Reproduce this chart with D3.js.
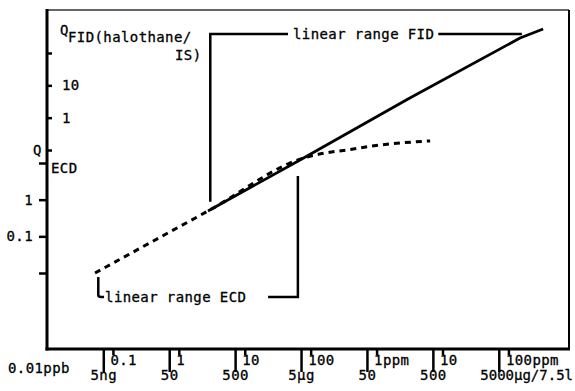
<!DOCTYPE html>
<html>
<head>
<meta charset="utf-8">
<script src="https://cdn.jsdelivr.net/npm/d3@7"></script>
<style>
  body { margin: 0; background: #fff; }
  svg { display: block; }
  text { font-family: "DejaVu Sans Mono", "Liberation Mono", monospace; font-size: 14px; letter-spacing: 0.4px; fill: #000; stroke: #000; stroke-width: 0.3px; }
</style>
</head>
<body>
<svg id="chart"></svg>
<script>
// Data (x = halothane concentration in ppb, log axis)
const concTicks = [0.1, 1, 10, 100, 1000, 10000, 100000];
const concLabels = ["0.1", "1", "10", "100", "1ppm", "10", "100ppm"];
const massTicks = [5, 50, 500, 5000, 50000, 500000, 5000000]; // ng in 7.5 l
const massLabels = ["5ng", "50", "500", "5µg", "50", "500", "5000µg/7.5l"];
const ngPerPpb = 70;

const fidTicks = [100, 10, 1, 0.1];
const fidLabels = ["", "10", "1", ""];
const ecdTicks = [10, 1, 0.1, 0.01];
const ecdLabels = ["", "1", "0.1", ""];

// FID response (solid) and ECD response (dashed)
const fidConc = [2.77, 69, 3000, 150000, 336000];
const fidQ = [0.0013, 0.049, 3.8, 290, 550];
const ecdConc = [0.0535, 2.77, 88, 165, 356, 1130, 6490];
const ecdQ = [0.01, 0.49, 14.6, 18.7, 22.6, 31, 40];

// Linear range brackets (data units)
const fidRange = { from: 3, to: 160000, low: 0.0025, level: 387, labelAt: 54 };
const ecdRange = { from: 0.06, to: 64, top: 0.0078, level: 0.00222, rightTop: 4.4, labelAt: 0.076, resumeAt: 22.6 };

// Layout
const W = 575, H = 391;
const plot = { left: 47, right: 569, top: 10, bottom: 349 };

const svg = d3.select("#chart").attr("width", W).attr("height", H);

// Scales
const x = d3.scaleLog().domain([0.01, 830000]).range([plot.left, plot.right]);
const xMass = m => x(m / ngPerPpb);
const yFid = d3.scaleLog().domain([0.1, 100]).range([150, 53]);
const yEcd = d3.scaleLog().domain([0.01, 10]).range([273, 163]);

// Frame
svg.append("line").attr("x1", plot.left).attr("x2", plot.right).attr("y1", plot.top).attr("y2", plot.top)
  .attr("stroke", "#333").attr("stroke-width", 1.5);
svg.append("line").attr("x1", plot.right).attr("x2", plot.right).attr("y1", plot.top).attr("y2", plot.bottom)
  .attr("stroke", "#000").attr("stroke-width", 2);
svg.append("line").attr("x1", plot.left).attr("x2", plot.left).attr("y1", plot.top - 1).attr("y2", plot.bottom + 1.5)
  .attr("stroke", "#000").attr("stroke-width", 3);
svg.append("line").attr("x1", plot.left - 1.5).attr("x2", plot.right + 1).attr("y1", plot.bottom).attr("y2", plot.bottom)
  .attr("stroke", "#000").attr("stroke-width", 3);

// Y axes
const fidAxis = svg.append("g")
  .attr("transform", `translate(${plot.left},0)`)
  .call(d3.axisRight(yFid).tickValues(fidTicks).tickSize(5).tickPadding(10)
    .tickFormat((d, i) => fidLabels[i]));
const ecdAxis = svg.append("g")
  .attr("transform", `translate(${plot.left},0)`)
  .call(d3.axisLeft(yEcd).tickValues(ecdTicks).tickSize(8).tickPadding(6)
    .tickFormat((d, i) => ecdLabels[i]));

// X axes
const concAxis = svg.append("g")
  .attr("transform", `translate(0,${plot.bottom})`)
  .call(d3.axisBottom(x).tickValues(concTicks).tickSize(6)
    .tickFormat((d, i) => concLabels[i]));
concAxis.selectAll("text")
  .attr("text-anchor", "start").attr("x", -3).attr("y", 16).attr("dy", 0);

const massAxis = svg.append("g")
  .attr("transform", `translate(0,${plot.bottom})`)
  .call(d3.axisBottom(d3.scaleLinear().domain([0, W]).range([0, W]))
    .tickValues(massTicks.map(xMass)).tickSize(23)
    .tickFormat((d, i) => massLabels[i]));
massAxis.selectAll("text").attr("y", 31).attr("dy", 0);
massAxis.selectAll("text").filter((d, i) => i === massTicks.length - 1)
  .attr("text-anchor", "start").attr("x", -19).style("letter-spacing", "0px");

[fidAxis, ecdAxis, concAxis, massAxis].forEach(g => {
  g.select(".domain").remove();
  g.selectAll("line").attr("stroke", "#000").attr("stroke-width", 2.5);
  g.attr("font-family", null).attr("font-size", null);
  g.selectAll("text").attr("fill", "#000");
});

// Axis titles
svg.append("text").attr("x", 8).attr("y", 373).text("0.01ppb");
svg.append("text").attr("x", 33).attr("y", 155).text("Q");
svg.append("text").attr("x", 51).attr("y", 173).text("ECD");
svg.append("text").attr("x", 60).attr("y", 35).text("Q");
svg.append("text").attr("x", 68).attr("y", 42).text("FID(halothane/");
svg.append("text").attr("x", 175).attr("y", 60).text("IS)");

// Curves
const fidLine = d3.line().x((d, i) => x(fidConc[i])).y((d, i) => yFid(fidQ[i]));
svg.append("path")
  .datum(fidConc)
  .attr("d", fidLine)
  .attr("fill", "none").attr("stroke", "#000").attr("stroke-width", 2.8)
  .attr("stroke-linejoin", "round");

const ecdLine = d3.line().curve(d3.curveMonotoneX)
  .x((d, i) => x(ecdConc[i])).y((d, i) => yEcd(ecdQ[i]));
svg.append("path")
  .datum(ecdConc)
  .attr("d", ecdLine)
  .attr("fill", "none").attr("stroke", "#000").attr("stroke-width", 3)
  .attr("stroke-dasharray", "6,5");

// FID linear range bracket
svg.append("path")
  .attr("d", `M${x(fidRange.from)},${yFid(fidRange.low)}V${yFid(fidRange.level)}H${x(fidRange.to)}`)
  .attr("fill", "none").attr("stroke", "#000").attr("stroke-width", 2.5);
const fidText = svg.append("text")
  .attr("x", x(fidRange.labelAt)).attr("y", yFid(fidRange.level) + 5.5)
  .text("linear range FID");
const fb = fidText.node().getBBox();
svg.append("rect")
  .attr("x", fb.x - 5).attr("y", fb.y).attr("width", fb.width + 9).attr("height", fb.height)
  .attr("fill", "#fff");
fidText.raise();

// ECD linear range bracket
const ex = x(ecdRange.from), ey = yEcd(ecdRange.level);
svg.append("path")
  .attr("d", `M${ex},${yEcd(ecdRange.top)}V${ey - 2}Q${ex},${ey} ${ex + 3},${ey}H${x(ecdRange.labelAt) - 1}`)
  .attr("fill", "none").attr("stroke", "#000").attr("stroke-width", 2.5);
svg.append("path")
  .attr("d", `M${x(ecdRange.resumeAt)},${ey}H${x(ecdRange.to)}V${yEcd(ecdRange.rightTop)}`)
  .attr("fill", "none").attr("stroke", "#000").attr("stroke-width", 2.5);
svg.append("text")
  .attr("x", x(ecdRange.labelAt)).attr("y", ey + 5.5)
  .text("linear range ECD");
</script>
</body>
</html>
